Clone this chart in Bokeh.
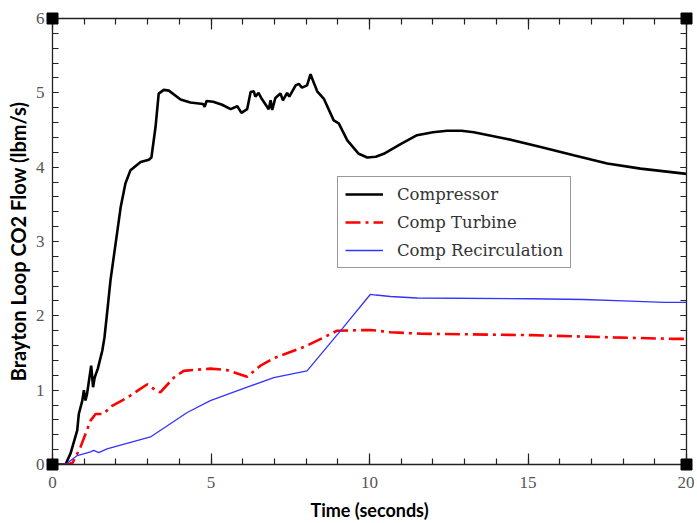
from bokeh.plotting import figure
from bokeh.models import LinearAxis, SingleIntervalTicker, Range1d, Legend, LegendItem
from bokeh.embed import file_html
from bokeh.resources import INLINE

# ---- data ----
comp_t = [0, 0.41, 0.57, 0.78, 0.83, 0.94, 0.99, 1.04, 1.09, 1.22, 1.28, 1.33, 1.43, 1.57, 1.64,
          1.72, 1.83, 2.15, 2.3, 2.46, 2.78, 3.04, 3.12, 3.25, 3.35, 3.51, 3.67, 4.04, 4.35, 4.75,
          4.8, 4.86, 5.07, 5.35, 5.62, 5.83, 5.96, 6.14, 6.25, 6.35, 6.4, 6.5, 6.6, 6.82, 6.88,
          6.93, 7.03, 7.19, 7.27, 7.4, 7.47, 7.67, 7.77, 7.87, 8.03, 8.14, 8.24, 8.35, 8.56, 8.87,
          9.03, 9.3, 9.66, 9.93, 10.2, 10.45, 10.98, 11.5, 12.0, 12.45, 12.9, 13.29, 14.34, 15.4,
          16.44, 17.5, 18.55, 20]
comp_v = [0, 0, 0.15, 0.46, 0.68, 0.86, 1.0, 0.86, 0.95, 1.33, 1.04, 1.17, 1.29, 1.53, 1.71,
          2.03, 2.48, 3.46, 3.78, 3.96, 4.07, 4.1, 4.13, 4.54, 4.99, 5.04, 5.03, 4.91, 4.87, 4.85,
          4.81, 4.89, 4.88, 4.84, 4.78, 4.82, 4.73, 4.78, 5.01, 5.02, 4.95, 5.0, 4.92, 4.78, 4.9,
          4.77, 4.93, 4.99, 4.9, 5.0, 4.95, 5.1, 5.12, 5.07, 5.1, 5.25, 5.14, 5.02, 4.92, 4.63,
          4.59, 4.36, 4.18, 4.13, 4.14, 4.18, 4.31, 4.43, 4.47, 4.49, 4.49, 4.47, 4.38, 4.27,
          4.16, 4.05, 3.98, 3.91]

turb_t = [0.3, 0.45, 0.63, 0.88, 1.2, 1.36, 1.6, 1.88, 2.36, 2.99, 3.25, 3.4, 3.83, 4.14, 4.98,
          5.5, 6.14, 6.56, 6.98, 7.93, 8.56, 8.98, 10.03, 10.66, 11.6, 15.1, 17.7, 19.6, 20]
turb_v = [0, 0, 0.02, 0.23, 0.59, 0.68, 0.68, 0.79, 0.9, 1.08, 1.0, 0.97, 1.17, 1.26, 1.29,
          1.27, 1.18, 1.33, 1.43, 1.58, 1.71, 1.8, 1.81, 1.78, 1.76, 1.74, 1.71, 1.69, 1.69]

recirc_t = [0.3, 0.41, 0.78, 1.2, 1.3, 1.46, 1.72, 3.09, 4.25, 4.98, 6.14, 6.98, 8.03, 9.09,
            10.03, 10.2, 10.66, 11.5, 15.08, 16.75, 18.0, 19.3, 20]
recirc_v = [0, 0, 0.12, 0.17, 0.19, 0.16, 0.21, 0.37, 0.70, 0.86, 1.04, 1.17, 1.26, 1.80,
            2.29, 2.28, 2.26, 2.24, 2.23, 2.22, 2.20, 2.18, 2.18]

series_names = ["Compressor", "Comp Turbine", "Comp Recirculation"]
x_min, x_max = 0, 20
y_min, y_max = 0, 6

p = figure(width=694, height=523, output_backend="svg", toolbar_location=None,
           x_range=Range1d(x_min, x_max), y_range=Range1d(y_min, y_max),
           x_axis_location=None, y_axis_location=None,
           min_border_left=52, min_border_right=8, min_border_top=18, min_border_bottom=59)
p.outline_line_color = None
p.grid.visible = False
p.background_fill_color = "white"

tick_font = "Liberation Sans Narrow"

def make_axis(kind, loc):
    if kind == "x":
        ax = LinearAxis(ticker=SingleIntervalTicker(interval=5, num_minor_ticks=5))
        ax.major_tick_in = 11
    else:
        ax = LinearAxis(ticker=SingleIntervalTicker(interval=1, num_minor_ticks=5))
        ax.major_tick_in = 6
    ax.major_tick_out = 0
    ax.minor_tick_in = 6
    ax.minor_tick_out = 0
    ax.axis_line_color = "#222222"
    ax.axis_line_width = 1.3
    ax.major_tick_line_color = "#222222"
    ax.minor_tick_line_color = "#222222"
    ax.major_tick_line_width = 1.2
    ax.minor_tick_line_width = 1.2
    ax.major_label_text_font = tick_font
    ax.major_label_text_font_size = "17px"
    ax.major_label_text_color = "#555555"
    ax.major_label_standoff = 12 if kind == "x" else 8
    if loc in ("above", "right"):
        ax.major_label_text_font_size = "6px"
        ax.major_label_text_color = None
        ax.major_label_standoff = 0
    p.add_layout(ax, loc)
    return ax

xb = make_axis("x", "below")
xb.axis_label = "Time (seconds)"
xb.axis_label_text_font = "Lato"
xb.axis_label_text_font_style = "bold"
xb.axis_label_text_font_size = "18px"
xb.axis_label_text_color = "black"
xb.axis_label_standoff = 8
make_axis("x", "above")
yl = make_axis("y", "left")
yl.axis_label = "Brayton Loop CO2 Flow (lbm/s)"
yl.axis_label_text_font = "Lato"
yl.axis_label_text_font_style = "bold"
yl.axis_label_text_font_size = "20px"
yl.axis_label_text_color = "black"
yl.axis_label_standoff = 3
make_axis("y", "right")

r1 = p.line(comp_t, comp_v, line_color="black", line_width=2.6)
r2 = p.line(turb_t, turb_v, line_color="#ff0000", line_width=2.6, line_dash="15 5 3 5")
r3 = p.line(recirc_t, recirc_v, line_color="#3333ff", line_width=1.3)

corner_x = [x_min, x_min, x_max, x_max]
corner_y = [y_min, y_max, y_min, y_max]
p.scatter(corner_x, corner_y, marker="square", size=11, color="black", level="overlay")

legend = Legend(items=[LegendItem(label=series_names[0], renderers=[r1]),
                       LegendItem(label=series_names[1], renderers=[r2]),
                       LegendItem(label=series_names[2], renderers=[r3])],
                location=(285, 196))
legend.border_line_color = "#333333"
legend.border_line_width = 1
legend.background_fill_alpha = 1
legend.label_text_font = "DejaVu Serif"
legend.label_text_font_size = "16.5px"
legend.label_text_color = "#333333"
legend.glyph_width = 38
legend.glyph_height = 20
legend.label_height = 20
legend.label_standoff = 14
legend.spacing = 8
legend.padding = 7
legend.margin = 0
p.add_layout(legend)

open("out.html", "w").write(file_html(p, INLINE))
